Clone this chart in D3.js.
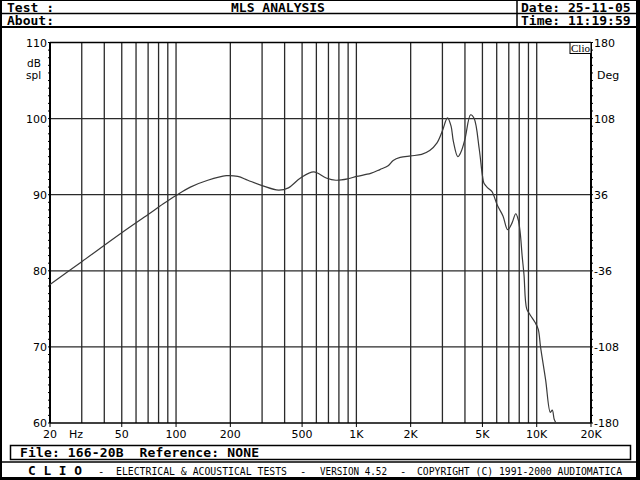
<!DOCTYPE html>
<html><head><meta charset="utf-8">
<script src="https://cdn.jsdelivr.net/npm/d3@7"></script>
<style>body{margin:0;background:#fff}svg{display:block}text{white-space:pre}</style>
</head><body>
<script>
const freqs = [20,30,50,70,85,100,120,150,190,220,250,300,370,420,490,580,680,770,900,1000,1200,1350,1500,1600,1750,2000,2300,2550,2800,3000,3200,3350,3450,3650,3800,4000,4300,4500,4800,5000,5100,5350,5650,6050,6500,6900,7300,7650,7900,8100,8300,8500,8800,9200,9800,10200,10500,11200,11900,12200,12500,12800];
const dbspl = [78.2,81.2,85.0,87.4,88.8,89.9,91.0,91.9,92.5,92.4,91.9,91.2,90.6,90.9,92.2,93.0,92.2,91.9,92.1,92.4,92.8,93.3,93.8,94.5,94.9,95.1,95.3,95.8,96.8,98.4,100.1,99.0,97.0,95.0,95.6,97.3,100.5,100.0,96.0,92.5,91.5,90.9,90.4,88.6,87.2,85.4,86.3,87.5,86.7,85.0,82.0,79.5,75.0,74.2,73.2,72.3,70.0,65.7,61.4,61.7,60.5,60.0];
const xTickVals = [20,50,100,200,500,1000,2000,5000,10000,20000];
const xTickLabels = ["20","50","100","200","500","1K","2K","5K","10K","20K"];
const yTickVals = [110,100,90,80,70,60];
const rightLabels = ["180","108","36","-36","-108","-180"];
const gridFreqs = [];
for (let d of [10,100,1000,10000]) for (let m=1;m<=9;m++){const f=d*m; if(f>20 && f<20000) gridFreqs.push(f);}

const W=640,H=480;
const svg=d3.select("body").append("svg").attr("width",W).attr("height",H);
const mono="'DejaVu Sans Mono', monospace";
const sans="'DejaVu Sans', sans-serif";

// outer frame
svg.append("rect").attr("width",W).attr("height",H).attr("fill","#000");
svg.append("rect").attr("x",2).attr("y",1).attr("width",634).attr("height",476).attr("fill","#fff");

// header lines
const hl=(x1,y1,x2,y2,w)=>svg.append("line").attr("x1",x1).attr("y1",y1).attr("x2",x2).attr("y2",y2).attr("stroke","#000").attr("stroke-width",w||1.5);
hl(2,13.5,636,13.5);
hl(2,27,636,27,2);
hl(517,1,517,27);
const ht=(x,y,t,anchor)=>svg.append("text").attr("x",x).attr("y",y).attr("font-family",mono).attr("font-weight","bold").attr("font-size",13).attr("text-anchor",anchor||"start").text(t);
ht(7,11.5,"Test :");
ht(278,11.5,"MLS ANALYSIS","middle");
ht(521,11.5,"Date: 25-11-05");
ht(7,25,"About:");
ht(521,25,"Time: 11:19:59");

// plot
const x=d3.scaleLog().domain([20,20000]).range([50,591]);
const y=d3.scaleLinear().domain([60,110]).range([423,42.5]);
const g=svg.append("g");
g.selectAll(".vg").data(gridFreqs).join("line").attr("x1",d=>x(d)).attr("x2",d=>x(d)).attr("y1",42.5).attr("y2",423).attr("stroke","#2a2a2a").attr("stroke-width",1.3);
g.selectAll(".hg").data([100,90,80,70]).join("line").attr("x1",50).attr("x2",591).attr("y1",d=>y(d)).attr("y2",d=>y(d)).attr("stroke","#2a2a2a").attr("stroke-width",1.3);
// border
g.append("line").attr("x1",50).attr("x2",591).attr("y1",42.5).attr("y2",42.5).attr("stroke","#000").attr("stroke-width",1.5);
g.append("line").attr("x1",50).attr("x2",591).attr("y1",423).attr("y2",423).attr("stroke","#000").attr("stroke-width",1.5);
g.append("line").attr("x1",50).attr("x2",50).attr("y1",42.5).attr("y2",423).attr("stroke","#000").attr("stroke-width",2);
g.append("line").attr("x1",591).attr("x2",591).attr("y1",42.5).attr("y2",423).attr("stroke","#000").attr("stroke-width",2);
// minor ticks
const minor=d3.range(60,111,1);
g.selectAll(".ml").data(minor).join("line").attr("x1",48).attr("x2",50).attr("y1",d=>y(d)).attr("y2",d=>y(d)).attr("stroke","#000");
g.selectAll(".mr").data(minor).join("line").attr("x1",591).attr("x2",593).attr("y1",d=>y(d)).attr("y2",d=>y(d)).attr("stroke","#000");
// x ticks
g.selectAll(".xt").data(xTickVals).join("line").attr("x1",d=>x(d)).attr("x2",d=>x(d)).attr("y1",423).attr("y2",427).attr("stroke","#000");

// Clio box
g.append("rect").attr("x",570).attr("y",42.5).attr("width",21).attr("height",11).attr("fill","#fff").attr("stroke","#000");
g.append("text").attr("x",580.5).attr("y",52).attr("font-family","'Liberation Serif', serif").attr("font-size",11).attr("text-anchor","middle").text("Clio");

// curve
const line=d3.line().x((d,i)=>x(freqs[i])).y(d=>y(d)).curve(d3.curveCatmullRom);
g.append("path").datum(dbspl).attr("d",line).attr("fill","none").attr("stroke","#3a3a3a").attr("stroke-width",1.2);

// axis labels
const al=(xx,yy,t,anchor,fs)=>svg.append("text").attr("x",xx).attr("y",yy).attr("font-family",sans).attr("font-size",fs||11).attr("text-anchor",anchor||"start").text(t);
yTickVals.forEach((v,i)=>{al(47,y(v)+4,String(v),"end"); al(594,y(v)+4,rightLabels[i]);});
al(27,67,"dB",null,10.5); al(26,79,"spl",null,10.5);
al(597,79,"Deg");
xTickVals.forEach((v,i)=>al(x(v),438,xTickLabels[i],"middle"));
al(76,438,"Hz","middle");

// footer
svg.append("rect").attr("x",10.5).attr("y",445.5).attr("width",620).attr("height",14).attr("fill","none").attr("stroke","#000").attr("stroke-width",1.5);
svg.append("text").attr("x",20).attr("y",457).attr("font-family",mono).attr("font-weight","bold").attr("font-size",13).attr("textLength",239).attr("lengthAdjust","spacing").text("File: 166-20B  Reference: NONE");
hl(2,462,636,462);
const ft=(xx,t,len,bold)=>{const e=svg.append("text").attr("x",xx).attr("y",475).attr("font-family",mono).attr("font-size",bold?12.5:10.5).text(t);
  if(bold) e.attr("font-weight","bold"); if(len) e.attr("textLength",len).attr("lengthAdjust","spacingAndGlyphs");};
ft(28,"C L I O",54,true);
ft(98,"-");
ft(116,"ELECTRICAL & ACOUSTICAL TESTS",171);
ft(300,"-");
ft(320,"VERSION 4.52",67);
ft(400,"-");
ft(417,"COPYRIGHT (C) 1991-2000 AUDIOMATICA",205);
</script>
</body></html>
